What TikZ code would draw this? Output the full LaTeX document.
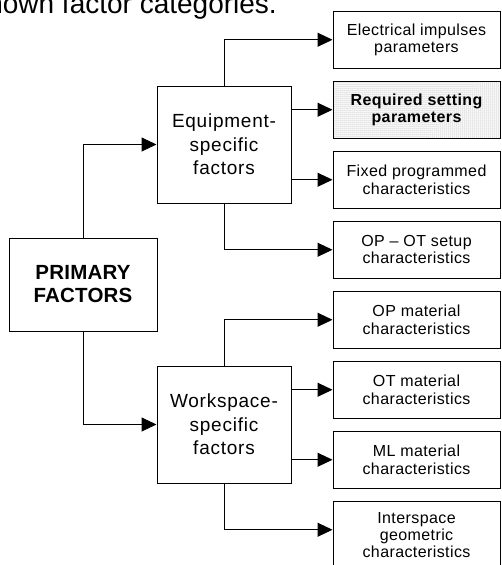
\documentclass[tikz,border=0pt]{standalone}
\usepackage{fontspec}
\setmainfont{Liberation Sans}
\usetikzlibrary{arrows.meta,patterns.meta}
\begin{document}
\begin{tikzpicture}[x=1pt,y=-1pt,
  smallbox/.style={draw, line width=1pt, minimum width=167pt, minimum height=57.5pt,
    inner sep=0pt, align=center, font=\fontsize{16}{17.4}\selectfont\addfontfeature{LetterSpace=2.5}},
  bigbox/.style={draw, line width=1pt, minimum width=134pt, minimum height=117pt,
    inner sep=0pt, align=center, font=\fontsize{19}{23.7}\selectfont\addfontfeature{LetterSpace=4}},
  primbox/.style={draw, line width=1pt, minimum width=148pt, minimum height=93pt,
    inner sep=0pt, align=center, font=\fontsize{20.5}{23}\selectfont\bfseries\addfontfeature{LetterSpace=1}},
  dotted fill/.style={pattern={Dots[distance=2pt, radius=0.5pt]}, pattern color=gray!90},
  arr/.style={line width=1pt, -{Triangle[length=15pt,width=14pt]}}]
\useasboundingbox (0,0) rectangle (501,565);
\clip (0,0) rectangle (501,565);

\node[anchor=base east, inner sep=0pt, font=\fontsize{28}{30}\selectfont] (hdr) at (277,13.5) {shown factor categories.};

\node[primbox] (pf) at (83,284.5) {PRIMARY\\FACTORS};
\node[bigbox] (eq) at (224,144.5) {Equipment-\\specific\\factors};
\node[bigbox] (ws) at (224,424.5) {Workspace-\\specific\\factors};

\node[smallbox] (b1) at (416.5,39.75) {Electrical impulses\\parameters};
\node[smallbox, dotted fill, font=\fontsize{16}{17.4}\selectfont\bfseries\addfontfeature{LetterSpace=2.5}] (b2) at (416.5,109.75) {Required setting\\parameters};
\node[smallbox] (b3) at (416.5,179.75) {Fixed programmed\\characteristics};
\node[smallbox] (b4) at (416.5,249.75) {OP -- OT setup\\characteristics};
\node[smallbox] (b5) at (416.5,319.75) {OP material\\characteristics};
\node[smallbox] (b6) at (416.5,389.75) {OT material\\characteristics};
\node[smallbox] (b7) at (416.5,459.75) {ML material\\characteristics};
\node[smallbox, minimum height=68pt] (b8) at (416.5,535) {Interspace\\geometric\\characteristics};

\draw[arr] (pf.north) |- (eq.west);
\draw[arr] (pf.south) |- (ws.west);

\draw[arr] (eq.north) |- (b1.west);
\draw[arr] (eq.east |- b2.west) -- (b2.west);
\draw[arr] (eq.east |- b3.west) -- (b3.west);
\draw[arr] (eq.south) |- (b4.west);

\draw[arr] (ws.north) |- (b5.west);
\draw[arr] (ws.east |- b6.west) -- (b6.west);
\draw[arr] (ws.east |- b7.west) -- (b7.west);
\draw[arr] (ws.south) |- ([yshift=5.25pt]b8.west);
\end{tikzpicture}
\end{document}
